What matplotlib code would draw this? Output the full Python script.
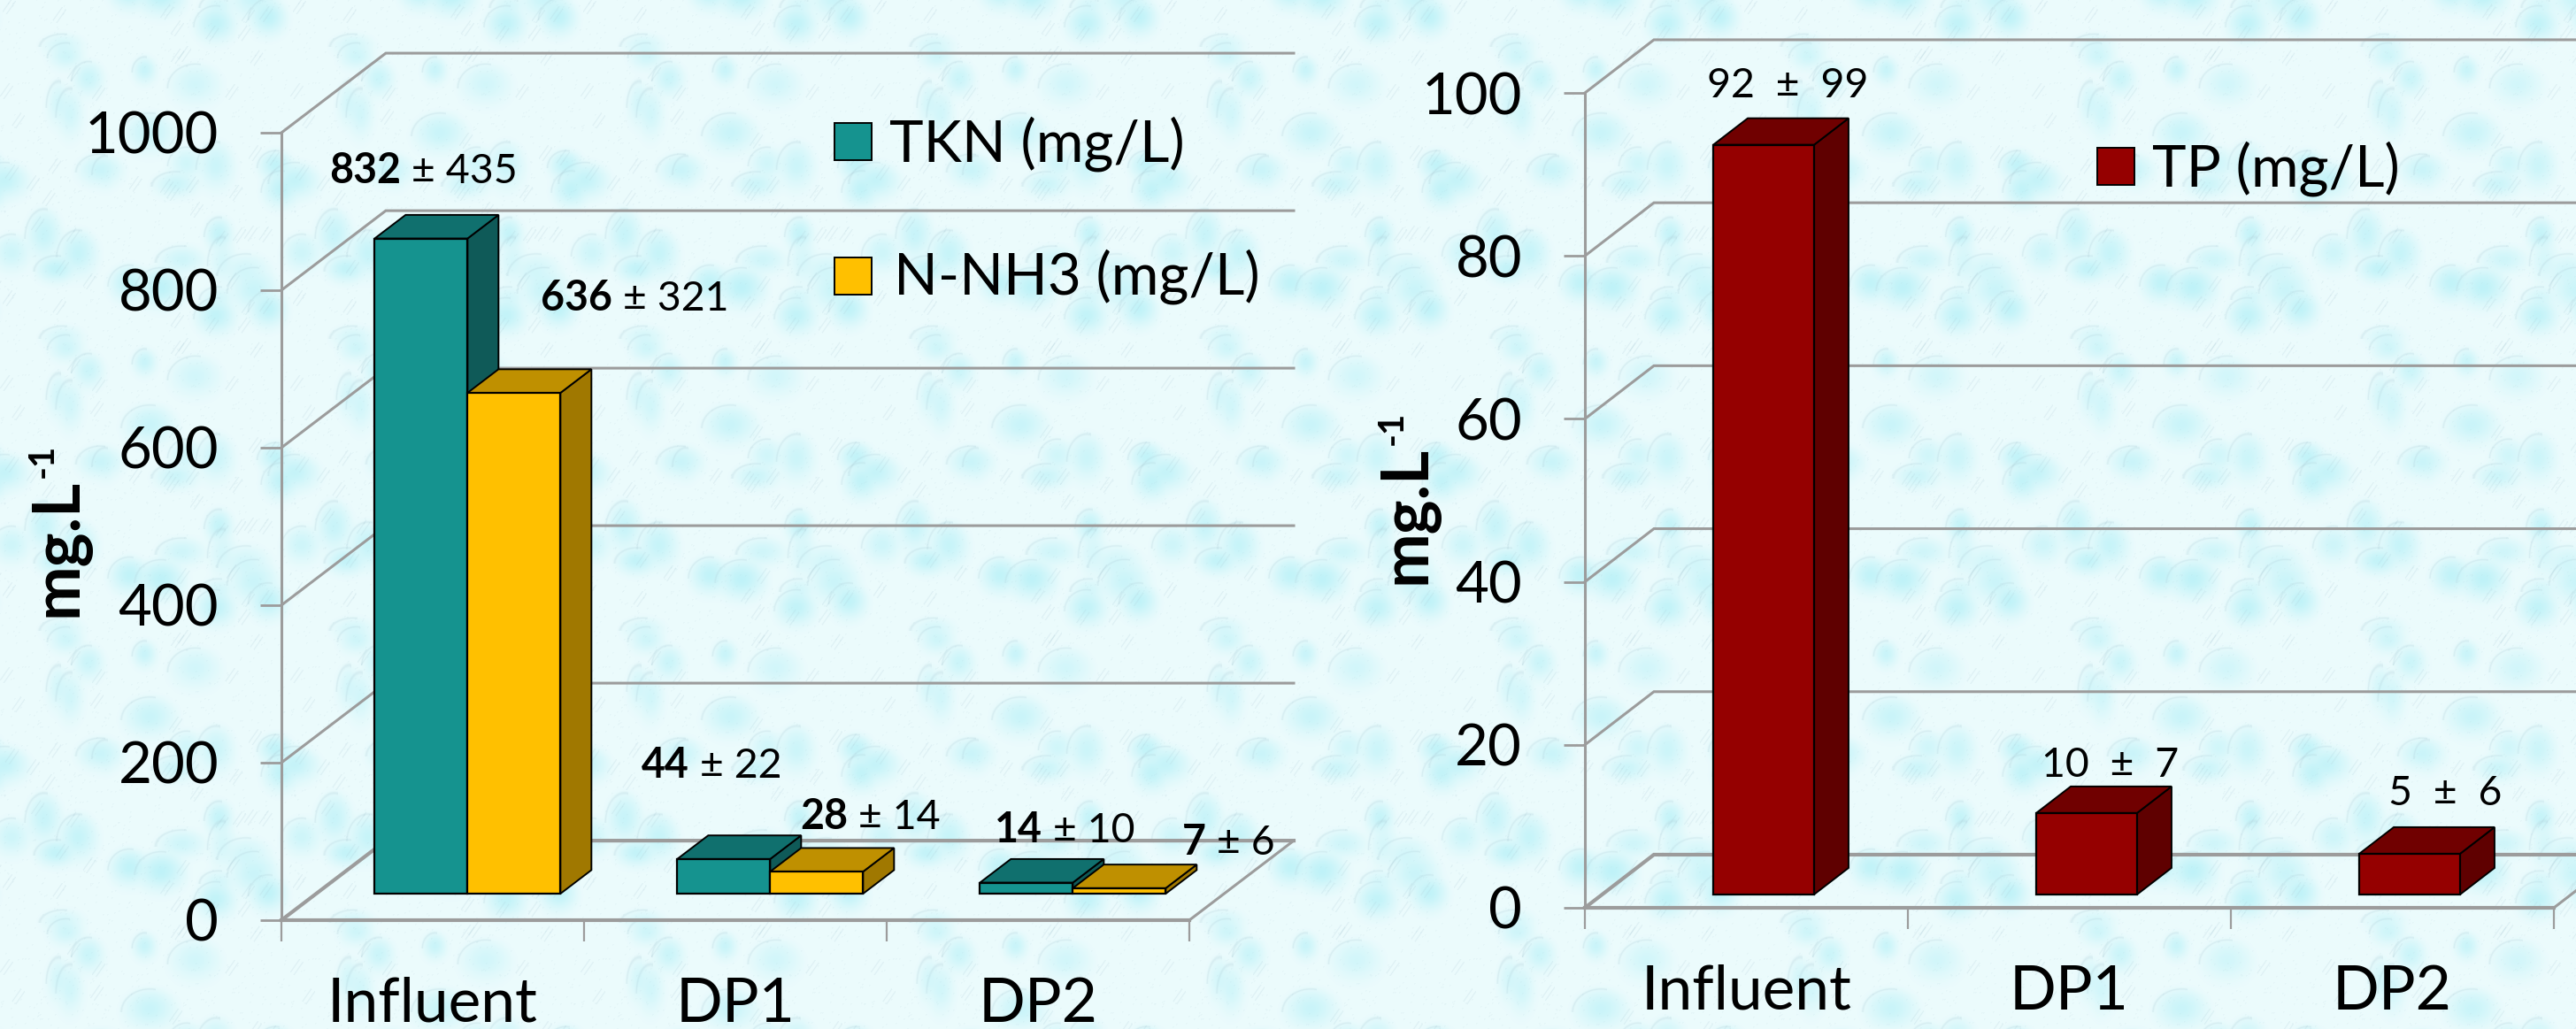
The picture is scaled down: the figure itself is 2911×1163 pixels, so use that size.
import matplotlib
matplotlib.use('Agg')
import matplotlib.pyplot as plt
import numpy as np

W, H = 2911, 1163

categories = ['Influent', 'DP1', 'DP2']
tkn_mean = [832, 44, 14]
tkn_sd = [435, 22, 10]
nh3_mean = [636, 28, 7]
nh3_sd = [321, 14, 6]
tp_mean = [92, 10, 5]
tp_sd = [99, 7, 6]
left_ticks = [0, 200, 400, 600, 800, 1000]
right_ticks = [0, 20, 40, 60, 80, 100]

# colours: front, top, side
TEAL = ('#15938f', '#10706e', '#0f5a58')
AMBER = ('#ffc000', '#bf9000', '#a07800')
RED = ('#950000', '#700000', '#5f0000')
GRID = '#9c9c9c'

plt.rcParams['font.family'] = ['Lato', 'DejaVu Sans']


def px(x, y):
    return x / W, 1 - y / H


def make_texture():
    # tiled water drop wallpaper, only decoration
    rng = np.random.default_rng(7)
    th, tw = 330, 328
    yy, xx = np.mgrid[0:th, 0:tw]
    shade = np.zeros((th, tw))
    arcs = np.zeros((th, tw))
    for i in range(30):
        cx, cy = rng.uniform(0, tw), rng.uniform(0, th)
        rx, ry = rng.uniform(14, 34), rng.uniform(14, 34)
        dx = (xx - cx + tw / 2) % tw - tw / 2
        dy = (yy - cy + th / 2) % th - th / 2
        r = np.sqrt((dx / rx) ** 2 + (dy / ry) ** 2)
        fall = np.clip(0.5 + dy / (2 * ry), 0, 1)
        shade = np.maximum(shade, np.clip(1.15 - r, 0, 1) * (1 - fall * 0.8) * rng.uniform(0.5, 1))
        arcs += np.exp(-((r - 1) * min(rx, ry) / 1.0) ** 2) * (dy < 0) * (dx < 0.2 * rx) * 0.25
    # small diagonal double strokes
    for i in range(40):
        cx, cy = rng.uniform(0, tw), rng.uniform(0, th)
        dx = (xx - cx + tw / 2) % tw - tw / 2
        dy = (yy - cy + th / 2) % th - th / 2
        near = dx ** 2 + dy ** 2 < 90
        for off in (-3, 3):
            arcs += near * np.exp(-((dx + 0.7 * dy - off) / 0.9) ** 2) * 0.22
    speck = rng.random((th, tw)) > 0.99
    speck = (speck * 1.0 + np.roll(speck, 1, 0) + np.roll(speck, 1, 1)) * 0.1
    # soft blur with wrap
    for n in range(3):
        for ax_ in (0, 1):
            shade = (shade + np.roll(shade, 1, ax_) + np.roll(shade, -1, ax_)
                     + np.roll(shade, 3, ax_) + np.roll(shade, -3, ax_)) / 5
    base = np.array([0.925, 0.985, 0.99])
    blob = np.array([0.72, 0.945, 0.97])
    line = np.array([0.68, 0.80, 0.84])
    tile = base + (blob - base) * np.clip(shade * 1.4, 0, 1)[..., None]
    mix = np.clip(arcs + speck, 0, 0.6)[..., None]
    tile = tile * (1 - mix) + line * mix
    return np.tile(tile, (H // th + 1, W // tw + 1, 1))[:H, :W]


def make_axes(fig, x0, x1, y0, y1, ymax):
    ax = fig.add_axes([x0 / W, 1 - y1 / H, (x1 - x0) / W, (y1 - y0) / H])
    ax.patch.set_visible(False)
    ax.set_xlim(0, 3)
    ax.set_ylim(0, ymax)
    for s in ['top', 'right']:
        ax.spines[s].set_visible(False)
    ax.spines['left'].set_color(GRID)
    ax.spines['left'].set_linewidth(2.2)
    ax.spines['bottom'].set_color(GRID)
    ax.spines['bottom'].set_linewidth(3)
    ax.set_xticks([0, 1, 2, 3])
    ax.set_xticklabels([])
    ax.set_xticks([0.5, 1.5, 2.5], minor=True)
    ax.set_xticklabels(categories, minor=True, fontsize=50)
    ax.tick_params(axis='x', which='major', length=17, width=1.6, color=GRID)
    ax.tick_params(axis='x', which='minor', length=0, pad=46)
    ax.tick_params(axis='y', length=17, width=2, color=GRID, pad=34, labelsize=47)
    return ax


def draw_walls(ax, ticks, dx, dy):
    for t in ticks:
        lw = 3 if t == 0 else 2.2
        ax.plot([0, dx, 3 + dx], [t, t + dy, t + dy], color=GRID, lw=lw, clip_on=False, zorder=1,
                solid_joinstyle='miter')
    ax.plot([3, 3 + dx], [0, dy], color=GRID, lw=2.2, clip_on=False, zorder=1)


def draw_box(ax, x, w, val, d0, d1, dx, dy, cols, z):
    base = d0 * dy
    top = base + val
    ddx, ddy = (d1 - d0) * dx, (d1 - d0) * dy
    x_l = x - w / 2
    x_r = x + w / 2
    ax.fill([x_r, x_r + ddx, x_r + ddx, x_r], [base, base + ddy, top + ddy, top],
            fc=cols[2], ec='black', lw=1.4, clip_on=False, zorder=z)
    ax.fill([x_l, x_l + ddx, x_r + ddx, x_r], [top, top + ddy, top + ddy, top],
            fc=cols[1], ec='black', lw=1.4, clip_on=False, zorder=z)
    ax.bar(x, val, w, bottom=base, color=cols[0], edgecolor='black', lw=1.6,
           clip_on=False, zorder=z + 0.1)


def value_label(ax, pos, mean, sd, size, bold=True, sep=' ± '):
    x, y = px(*pos)
    if bold:
        t = ax.figure.text(x, y, str(mean), fontsize=size, fontweight='bold', va='baseline', zorder=20)
        ax.annotate(sep + str(sd), xy=(1, 0), xycoords=t, va='bottom', ha='left',
                    fontsize=size, zorder=20, annotation_clip=False)
    else:
        ax.figure.text(x, y, str(mean) + sep + str(sd), fontsize=size, va='baseline', zorder=20)


fig = plt.figure(figsize=(W / 100, H / 100), dpi=100)
fig.figimage(make_texture(), 0, 0, origin='upper', zorder=-5, resize=False)

# left chart
ax1 = make_axes(fig, 318, 1344, 150, 1040, 1000)
ax1.set_yticks(left_ticks)
dx1, dy1 = 0.345, 101.0
d0, d1 = 0.333, 0.63
bw = 0.307
draw_walls(ax1, left_ticks, dx1, dy1)
for i in range(3):
    xc = i + 0.5 + d0 * dx1
    draw_box(ax1, xc - bw / 2, bw, tkn_mean[i], d0, d1, dx1, dy1, TEAL, 3)
    draw_box(ax1, xc + bw / 2, bw, nh3_mean[i], d0, d1, dx1, dy1, AMBER, 4)

tkn_pos = [(372, 207), (725, 879), (1124, 952)]
nh3_pos = [(611, 351), (904, 937), (1336, 966)]
for i in range(3):
    value_label(ax1, tkn_pos[i], tkn_mean[i], tkn_sd[i], 33.5)
    value_label(ax1, nh3_pos[i], nh3_mean[i], nh3_sd[i], 33.5)

# right chart
ax2 = make_axes(fig, 1791, 2886, 105, 1026, 100)
ax2.set_yticks(right_ticks)
dx2, dy2 = 0.2137, 6.52
d0r, d1r = 0.25, 0.75
bwr = 0.312
draw_walls(ax2, right_ticks, dx2, dy2)
for i in range(3):
    draw_box(ax2, i + 0.5 + d0r * dx2, bwr, tp_mean[i], d0r, d1r, dx2, dy2, RED, 3)

tp_pos = [(1929, 110), (2307, 878), (2699, 910)]
for i in range(3):
    value_label(ax2, tp_pos[i], tp_mean[i], tp_sd[i], 33.5, bold=False, sep='  ±  ')


# legends
def legend_item(ax, square, text_pos, label, cols):
    sx, sy, side = square
    x, y = px(sx, sy)
    ax.figure.patches.append(plt.Rectangle((x, y), side / W, side / H, transform=ax.figure.transFigure,
                                           fc=cols[0], ec='black', lw=1.4, zorder=10))
    tx, ty = px(*text_pos)
    ax.figure.text(tx, ty, label, fontsize=47, va='baseline')


legend_item(ax1, (943, 181, 42), (1005, 182), 'TKN (mg/L)', TEAL)
legend_item(ax1, (943, 333, 42), (1010, 333), 'N-NH3 (mg/L)', AMBER)
legend_item(ax2, (2370, 209, 42), (2432, 210), 'TP (mg/L)', RED)


# y axis titles
def y_title(base_x, bottom_y, sup_x, sup_y):
    x, y = px(base_x, bottom_y)
    fig.text(x, y, 'mg.L', rotation=90, fontsize=53, fontweight='bold',
             ha='left', va='baseline', rotation_mode='anchor')
    x, y = px(sup_x, sup_y)
    fig.text(x, y, '-1', rotation=90, fontsize=29, fontweight='bold',
             ha='left', va='baseline', rotation_mode='anchor')


y_title(86, 697, 60, 540)
y_title(1610, 660, 1585, 503)

fig.savefig('out.png', dpi=100)
